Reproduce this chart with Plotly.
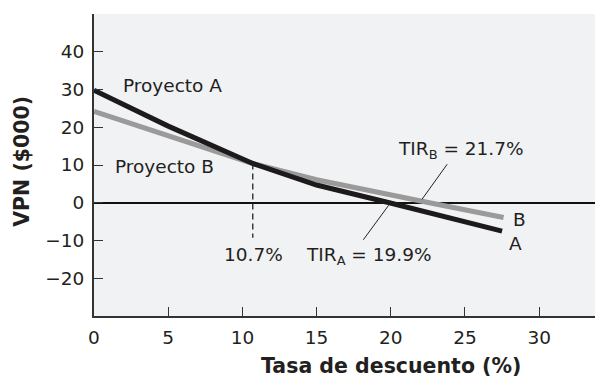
import plotly.graph_objects as go

# ---- data ----
rate_a = [0, 5, 10.7, 13, 15, 19.9, 27.5]
npv_a = [29.8, 20.3, 10.4, 7.3, 4.7, 0, -7.5]

rate_b = [0, 5, 10.7, 15, 19.45, 22.6, 27.6]
npv_b = [24.2, 17.8, 10.4, 6.1, 2.7, 0, -3.9]

crossover_rate = 10.7
crossover_npv = 10.4
dash_bottom = -9.3

x_ticks = [0, 5, 10, 15, 20, 25, 30]
y_ticks = [-20, -10, 0, 10, 20, 30, 40]
y_tick_labels = ["\u221220", "\u221210", "0", "10", "20", "30", "40"]

lead_a_x = [19.85, 18.15]
lead_a_y = [-0.7, -9.8]
lead_b_x = [22.1, 23.8]
lead_b_y = [0.9, 10.2]

# The page body has an 8px default margin, so the figure is sized/offset for it.
FONT = "DejaVu Sans"
fig = go.Figure()

fig.add_trace(go.Scatter(x=rate_b, y=npv_b, mode="lines",
                         line=dict(color="#9a9a9a", width=5), showlegend=False, hoverinfo="skip"))
fig.add_trace(go.Scatter(x=rate_a, y=npv_a, mode="lines",
                         line=dict(color="#1c1a1b", width=5), showlegend=False, hoverinfo="skip"))
fig.add_trace(go.Scatter(x=[crossover_rate, crossover_rate], y=[crossover_npv, dash_bottom], mode="lines",
                         line=dict(color="#222", width=1.3, dash="6px,4px"), showlegend=False, hoverinfo="skip"))
fig.add_trace(go.Scatter(x=lead_a_x, y=lead_a_y, mode="lines",
                         line=dict(color="#222", width=1), showlegend=False, hoverinfo="skip"))
fig.add_trace(go.Scatter(x=lead_b_x, y=lead_b_y, mode="lines",
                         line=dict(color="#222", width=1), showlegend=False, hoverinfo="skip"))

txt = dict(family=FONT, size=18.5, color="#231f20")
labels = [
    ("Proyecto A", 5.3, 31.0),
    ("Proyecto B", 4.75, 9.7),
    ("TIR<sub>B</sub> = 21.7%", 24.7, 14.0),
    ("10.7%", 10.75, -13.7),
    ("TIR<sub>A</sub> = 19.9%", 18.55, -14.0),
    ("B", 28.65, -4.5),
    ("A", 28.4, -10.8),
]
for t, x, y in labels:
    fig.add_annotation(x=x, y=y, text=t, showarrow=False, font=txt,
                       xanchor="center", yanchor="middle")

title_font = dict(family=FONT, size=20.5, color="#231f20", weight="bold")
fig.add_annotation(xref="x", yref="paper", x=20.0, y=-0.165, text="Tasa de descuento (%)",
                   showarrow=False, font=title_font,
                   xanchor="center", yanchor="middle")
fig.add_annotation(xref="paper", yref="paper", x=-0.142, y=0.513, text="VPN ($000)",
                   textangle=-90, showarrow=False, font=title_font,
                   xanchor="center", yanchor="middle")

fig.update_layout(
    width=595, height=371,
    margin=dict(l=86, r=0, t=6, b=63, autoexpand=False),
    paper_bgcolor="white", plot_bgcolor="#f1f2f4",
    font=txt,
)
fig.update_xaxes(range=[0, 34.3], tickvals=x_ticks, showgrid=False, zeroline=False,
                 showline=True, linecolor="#333", linewidth=2, automargin=False,
                 ticks="inside", ticklen=9, tickwidth=1.3, tickcolor="#333",
                 ticklabelstandoff=4, tickfont=txt)
fig.update_yaxes(range=[-30, 50], tickvals=y_ticks, ticktext=y_tick_labels, showgrid=False,
                 zeroline=True, zerolinecolor="#111", zerolinewidth=1.5,
                 showline=True, linecolor="#333", linewidth=2, automargin=False,
                 ticks="inside", ticklen=9, tickwidth=1.3, tickcolor="#333",
                 ticklabelstandoff=4, tickfont=txt)

fig.write_html("out.html")
